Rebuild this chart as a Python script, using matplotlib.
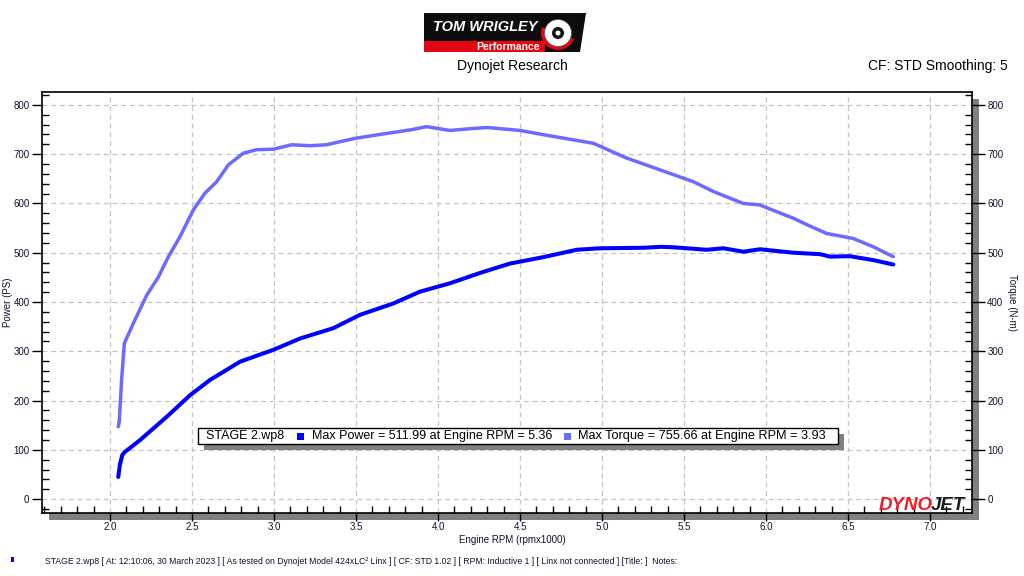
import numpy as np
import matplotlib
matplotlib.use("Agg")
import matplotlib.pyplot as plt
from matplotlib.patches import Rectangle, Polygon, Circle, Wedge
from matplotlib.ticker import MultipleLocator
from matplotlib.transforms import Affine2D

plt.rcParams['font.family'] = ['Liberation Sans', 'DejaVu Sans']

# dyno run readings (rpm x1000)
power_rpm = [2.050, 2.060, 2.075, 2.091, 2.183, 2.345, 2.488, 2.610, 2.793, 2.996,
             3.159, 3.362, 3.524, 3.727, 3.890, 4.073, 4.256, 4.439, 4.642, 4.846,
             4.988, 5.252, 5.360, 5.435, 5.638, 5.740, 5.862, 5.963, 6.166, 6.330,
             6.390, 6.510, 6.654, 6.776]
power_ps = [45, 70, 90, 96, 120, 167, 211, 242, 279, 303,
            326, 347, 374, 397, 421, 438, 459, 478, 491, 506,
            509, 510, 511.99, 511, 506, 509, 502, 507, 500, 497,
            492, 493, 485, 476]

torque_rpm = [2.050, 2.056, 2.070, 2.087, 2.142, 2.224, 2.295, 2.356, 2.427, 2.508,
              2.579, 2.650, 2.721, 2.813, 2.894, 2.996, 3.108, 3.220, 3.320, 3.400,
              3.494, 3.667, 3.829, 3.930, 4.073, 4.175, 4.300, 4.500, 4.683, 4.947,
              5.150, 5.354, 5.557, 5.680, 5.860, 5.960, 6.166, 6.268, 6.370, 6.530,
              6.654, 6.776]
torque_nm = [147, 157, 240, 316, 357, 414, 451, 492, 533, 587,
             621, 644, 678, 702, 709, 710, 719, 717, 719, 725,
             732, 741, 749, 755.66, 748, 751, 754, 748, 737, 722,
             692, 668, 644, 624, 600, 597, 570, 554, 539, 529,
             512, 492]

run_name = "STAGE 2.wp8"
max_power = (511.99, 5.36)
max_torque = (755.66, 3.93)
footer = ("STAGE 2.wp8 [ At: 12:10:06, 30 March 2023 ] [ As tested on Dynojet Model 424xLC\u00b2 Linx ] "
          "[ CF: STD 1.02 ] [ RPM: Inductive 1 ] [ Linx not connected ] [Title: ]  Notes:")

POWER_COL = "#0000ff"
TORQUE_COL = "#6b6bff"
TICK_COL = "#101030"
W, H = 1024, 576

fig = plt.figure(figsize=(10.24, 5.76), dpi=100)
fig.patch.set_facecolor("white")
# pixel coordinates measured from the top-left corner of the picture
PX = Affine2D().scale(1, -1).translate(0, H)

# axes box in pixels: left 42, right 972, top 92, bottom 513
L, R, T, B = 42, 972, 92, 513
ax = fig.add_axes([L / W, 1 - B / H, (R - L) / W, (B - T) / H])
ax.set_zorder(2)

# grey drop shadow behind the plot box
fig.patches.append(Rectangle((L + 7, B + 7), R - L, -(B - T), transform=PX,
                             facecolor="#808080", edgecolor="none", zorder=0))

ax.plot(torque_rpm, torque_nm, color=TORQUE_COL, lw=2.5, solid_capstyle="round", zorder=3)
ax.plot(power_rpm, power_ps, color=POWER_COL, lw=2.9, solid_capstyle="round", zorder=4)

ax.set_xlim(1.585, 7.256)
ax.set_ylim(-28, 826)
ax.xaxis.set_minor_locator(MultipleLocator(0.1))
ax.yaxis.set_major_locator(MultipleLocator(100))
ax.yaxis.set_minor_locator(MultipleLocator(20))
ax.set_xticks(np.arange(2.0, 7.01, 0.5))
ax.xaxis.set_major_formatter(plt.FuncFormatter(lambda v, p: f"{v:.1f}"))
ax.grid(True, which="major", color="#c4c4c4", linestyle=(0, (4, 3)), lw=0.9)
ax.set_axisbelow(True)

ax.tick_params(axis="x", which="major", direction="out", length=6, width=1,
               labelsize=7, labelcolor=TICK_COL, pad=0.5)
ax.tick_params(axis="x", which="minor", direction="in", length=5, width=1)
ax.tick_params(axis="y", which="major", direction="out", length=7, width=1,
               labelsize=7, labelcolor=TICK_COL, pad=2)
ax.tick_params(axis="y", which="minor", direction="in", length=5, width=1)
for s in ax.spines.values():
    s.set_linewidth(1.2)

ax2 = ax.twinx()
ax2.set_ylim(ax.get_ylim())
ax2.yaxis.set_major_locator(MultipleLocator(100))
ax2.yaxis.set_minor_locator(MultipleLocator(20))
ax2.tick_params(axis="y", which="major", direction="out", length=9, width=1,
                labelsize=7, labelcolor=TICK_COL, pad=2)
ax2.tick_params(axis="y", which="minor", direction="in", length=5, width=1)
for s in ax2.spines.values():
    s.set_visible(False)

fig.text(8, 302, "Power (PS)", rotation=90, ha="center", va="center",
         fontsize=7, color=TICK_COL, transform=PX)
fig.text(1012, 302, "Torque (N-m)", rotation=270, ha="center", va="center",
         fontsize=7, color=TICK_COL, transform=PX)
fig.text(512, 540, "Engine RPM (rpmx1000)", ha="center", va="center",
         fontsize=7, color=TICK_COL, transform=PX)

# header
fig.text(512, 66, "Dynojet Research", ha="center", va="center", fontsize=10, transform=PX)
fig.text(1008, 66, "CF: STD Smoothing: 5", ha="right", va="center", fontsize=10, transform=PX)

# Tom Wrigley logo
fig.patches.append(Polygon([(424, 13), (586, 13), (580, 52), (424, 52)], closed=True,
                           transform=PX, facecolor="#0d0d0d", edgecolor="none", zorder=1))
fig.patches.append(Rectangle((424, 41), 121, 11, transform=PX,
                             facecolor="#e30613", edgecolor="none", zorder=2))
fig.patches.append(Wedge((558, 33), 17, 20, 200, width=4, transform=PX,
                         facecolor="#e30613", edgecolor="none", zorder=2))
fig.patches.append(Circle((558, 33), 13.5, transform=PX,
                          facecolor="white", edgecolor="#555555", lw=0.5, zorder=3))
fig.patches.append(Circle((558, 33), 6, transform=PX,
                          facecolor="#111111", edgecolor="none", zorder=4))
fig.patches.append(Circle((558, 33), 2.5, transform=PX,
                          facecolor="white", edgecolor="none", zorder=5))
fig.text(485, 27, "TOM WRIGLEY", ha="center", va="center", fontsize=10.5,
         fontweight="bold", fontstyle="italic", color="white", zorder=6, transform=PX)
fig.text(508, 46.5, "Performance", ha="center", va="center", fontsize=7.5,
         fontweight="bold", color="white", zorder=6, transform=PX)

# legend box with shadow
fig.patches.append(Rectangle((204, 434), 640, 16, transform=PX,
                             facecolor="#808080", edgecolor="none", zorder=5))
fig.patches.append(Rectangle((198, 428), 640, 16, transform=PX,
                             facecolor="white", edgecolor="black", lw=1, zorder=6))
fig.text(206, 436, run_name, ha="left", va="center", fontsize=9, zorder=7, transform=PX)
fig.patches.append(Rectangle((297, 433), 7, 7, transform=PX,
                             facecolor=POWER_COL, edgecolor="none", zorder=7))
fig.text(312, 436, f"Max Power = {max_power[0]:.2f} at Engine RPM = {max_power[1]:.2f}",
         ha="left", va="center", fontsize=9, zorder=7, transform=PX)
fig.patches.append(Rectangle((564, 433), 7, 7, transform=PX,
                             facecolor=TORQUE_COL, edgecolor="none", zorder=7))
fig.text(578, 436, f"Max Torque = {max_torque[0]:.2f} at Engine RPM = {max_torque[1]:.2f}",
         ha="left", va="center", fontsize=9.2, zorder=7, transform=PX)

# Dynojet logo in the plot corner
fig.text(933, 506, "DYNO", ha="right", va="center", fontsize=13.5,
         fontweight="bold", fontstyle="italic", color="#ec1c2a", zorder=8, transform=PX)
fig.text(931, 506, "JET", ha="left", va="center", fontsize=13.5,
         fontweight="bold", fontstyle="italic", color="#1b1b1b", zorder=8, transform=PX)

# footer
fig.patches.append(Rectangle((11, 557), 3, 5, transform=PX,
                             facecolor=POWER_COL, edgecolor="none"))
fig.text(45, 561, footer, ha="left", va="center", fontsize=6.25, color=TICK_COL, transform=PX)

fig.savefig("out.png", dpi=100)
